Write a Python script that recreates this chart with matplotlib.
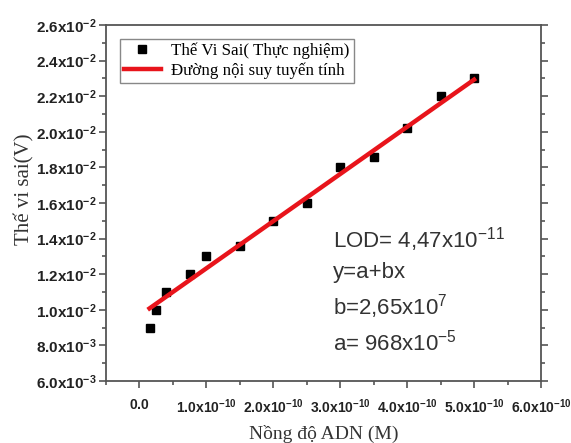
import numpy as np
import matplotlib
matplotlib.use("Agg")
import matplotlib.pyplot as plt
from matplotlib.ticker import MultipleLocator, FixedLocator

plt.rcParams['mathtext.fontset'] = 'custom'
plt.rcParams['mathtext.rm'] = 'Liberation Sans'
plt.rcParams['mathtext.bf'] = 'Liberation Sans:bold'
plt.rcParams['mathtext.it'] = 'Liberation Sans:italic'

# data
conc = np.array([0.15, 0.25, 0.4, 0.75, 1.0, 1.5, 2.0, 2.5, 3.0, 3.5, 4.0, 4.5, 5.0]) * 1e-10
pot = np.array([0.0090, 0.0100, 0.0110, 0.0120, 0.0130, 0.0136, 0.0150, 0.0160,
                0.0180, 0.0186, 0.0202, 0.0220, 0.0230])

# fit parameters from the chart's annotation
a = 968e-5
b = 2.65e7

yticks = np.arange(6e-3, 2.61e-2, 2e-3)
ylabels = ['6.0x10^{-3}', '8.0x10^{-3}', '1.0x10^{-2}', '1.2x10^{-2}', '1.4x10^{-2}',
           '1.6x10^{-2}', '1.8x10^{-2}', '2.0x10^{-2}', '2.2x10^{-2}', '2.4x10^{-2}',
           '2.6x10^{-2}']
xticks = np.arange(0, 6.1e-10, 1e-10)
xlabels = ['0.0', '1.0x10^{-10}', '2.0x10^{-10}', '3.0x10^{-10}', '4.0x10^{-10}',
           '5.0x10^{-10}', '6.0x10^{-10}']

fig = plt.figure(figsize=(5.71, 4.43), dpi=100)
ax = fig.add_axes([106/571, 1-381/443, 435/571, 356/443])

ax.plot(conc, pot, 's', color='black', markersize=6.3, label='Thế Vi Sai( Thực nghiệm)', zorder=3)
xf = np.array([conc[0], conc[-1]])
ax.plot(xf, a + b*xf, '-', color='#e8141b', linewidth=3.2, label='Đường nội suy tuyến tính', zorder=4)

ax.set_xlim(-0.5e-10, 6.0e-10)
ax.set_ylim(6e-3, 2.6e-2)

ax.yaxis.set_major_locator(FixedLocator(yticks))
ax.yaxis.set_minor_locator(MultipleLocator(1e-3))
ax.xaxis.set_major_locator(FixedLocator(xticks))
ax.xaxis.set_minor_locator(MultipleLocator(0.5e-10))
ax.set_yticklabels(['$\\mathbf{' + s + '}$' for s in ylabels])
ax.set_xticklabels(['$\\mathbf{' + s + '}$' for s in xlabels])

for sp in ax.spines.values():
    sp.set_color('#555555')
    sp.set_linewidth(1.3)
ax.tick_params(which='both', direction='out', color='#555555', width=1.2, right=True, top=False)
ax.tick_params(which='major', length=5, labelcolor='#222222')
ax.tick_params(axis='y', which='major', pad=2, labelsize=11)
ax.tick_params(axis='x', which='major', pad=7, labelsize=10)
ax.tick_params(which='minor', length=3)

ax.set_xlabel('Nồng độ ADN (M)', family='Liberation Serif', fontsize=14, color='#333333', labelpad=6)
ax.set_ylabel('Thế vi sai(V)', family='Liberation Serif', fontsize=15, color='#333333')
ax.yaxis.set_label_coords(-0.165, 0.54)

leg = ax.legend(loc='upper left', prop={'family': 'Liberation Serif', 'size': 12.2},
                fancybox=False, edgecolor='#888888', framealpha=1,
                borderaxespad=0.8, handlelength=2.2, borderpad=0.25, labelspacing=0.2,
                handletextpad=0.6)

notes = ['LOD= 4,47x10$^{-11}$', 'y=a+bx', 'b=2,65x10$^{7}$', 'a= 968x10$^{-5}$']
ypos = [0.396, 0.306, 0.208, 0.107]
for t, yy in zip(notes, ypos):
    ax.text(0.522, yy, t, transform=ax.transAxes, family='Liberation Sans',
            fontsize=16, color='#333333', va='center', ha='left')

fig.savefig('out.png', dpi=100)
